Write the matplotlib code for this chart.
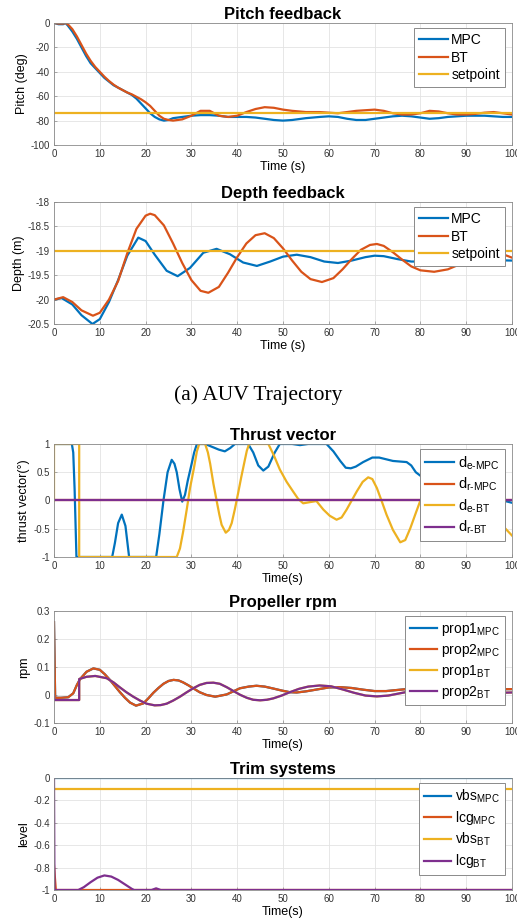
import numpy as np
import matplotlib
matplotlib.use("Agg")
import matplotlib.pyplot as plt
from matplotlib.ticker import StrMethodFormatter

plt.rcParams['font.family'] = ['Liberation Sans', 'DejaVu Sans']
plt.rcParams['mathtext.fontset'] = 'custom'
plt.rcParams['mathtext.rm'] = 'Liberation Sans'
plt.rcParams['mathtext.it'] = 'Liberation Sans'
plt.rcParams['mathtext.default'] = 'regular'
plt.rcParams['axes.unicode_minus'] = False

# Matlab default colours
C_BLUE = '#0072BD'
C_RED = '#D95319'
C_YEL = '#EDB120'
C_PUR = '#7E2F8E'

# ---------------- pitch feedback ----------------
pitch_t = [0, 1, 2, 2.5, 3, 4, 5, 6, 7, 8, 9, 10, 11, 12, 13, 14, 15, 16, 17, 18, 19, 20,
           21, 22, 23, 24, 25, 26, 28, 30, 32, 34, 36, 38, 40, 42, 44, 46, 48, 50, 52, 55,
           58, 60, 62, 64, 66, 68, 70, 72, 74, 76, 78, 80, 82, 84, 86, 88, 90, 92, 94, 96, 98, 100]
pitch_mpc = [0, -1, -1, 0, -2, -7, -13, -20, -27, -33, -37, -41, -45, -48, -51, -53, -55, -57,
             -59, -62, -66, -70, -74, -77, -79, -80, -79.5, -78, -77, -76, -75.5, -75.5, -76,
             -77, -77, -77, -77.5, -78.5, -79.5, -80, -79.5, -78, -77, -76.5, -77, -78.5, -79.5,
             -79.5, -78.5, -77.5, -76.5, -76, -76.5, -77.5, -78.5, -78, -77, -76.5, -76, -76,
             -76, -76.5, -77, -77]
pitch_bt = [0, -0.5, -0.5, 0, -1, -5, -11, -18, -25, -31, -36, -40, -44, -47.5, -50.5, -53, -55,
            -57, -58.5, -60.5, -62.5, -65, -68, -72, -76, -78.5, -79.5, -80, -79, -76, -72, -72,
            -76, -77, -76, -73, -70.5, -69, -69.5, -71, -72, -73, -73, -73.5, -74, -73, -72,
            -71.5, -71, -72, -74, -75, -75, -74, -72, -72.5, -74, -75, -75, -74.5, -73.5, -73,
            -74, -75]
pitch_setpoint = -74

# ---------------- depth feedback ----------------
depth_t_mpc = [0, 1.7, 4, 6, 8.4, 10, 12, 14, 16, 18.4, 20, 22, 24.6, 27, 29.7, 32.6, 35.5, 38.4,
               41.3, 44.3, 47.2, 50, 53, 56, 59, 62, 65, 68, 70, 72, 75, 78, 80, 83, 86, 89, 92,
               95, 100]
depth_mpc = [-20, -19.97, -20.1, -20.32, -20.5, -20.4, -20.05, -19.6, -19.1, -18.73, -18.8,
             -19.08, -19.41, -19.52, -19.35, -19.04, -18.96, -19.07, -19.24, -19.31, -19.22,
             -19.12, -19.08, -19.13, -19.22, -19.25, -19.2, -19.13, -19.1, -19.11, -19.17,
             -19.22, -19.22, -19.19, -19.14, -19.12, -19.14, -19.19, -19.2]
depth_t_bt = [0, 2, 4, 6, 8.5, 10, 12, 14, 16, 18, 20, 21, 22, 24, 26, 28, 30, 32, 33.7, 36, 38,
              40, 42, 44, 46, 48, 50, 52, 54, 56, 58.5, 61, 63, 65, 67, 69, 70.5, 72, 74, 76, 78,
              80, 83, 86, 88, 90, 92, 94, 96, 98, 100]
depth_bt = [-20, -19.95, -20.05, -20.22, -20.33, -20.27, -20.0, -19.62, -19.05, -18.55, -18.28,
            -18.24, -18.27, -18.48, -18.85, -19.25, -19.6, -19.82, -19.86, -19.74, -19.45,
            -19.13, -18.85, -18.68, -18.64, -18.74, -18.95, -19.2, -19.43, -19.58, -19.64,
            -19.56, -19.38, -19.17, -18.98, -18.88, -18.86, -18.9, -19.03, -19.18, -19.32,
            -19.4, -19.43, -19.38, -19.3, -19.2, -19.1, -19.04, -19.03, -19.07, -19.14]
depth_setpoint = -19

# ---------------- thrust vector ----------------
thr_t_mpc = [0, 3.9, 4.2, 4.5, 4.9, 12.7, 13.3, 14.0, 14.8, 15.6, 16.4, 22.3, 23.0, 23.9, 24.8,
             25.7, 26.3, 26.8, 27.4, 28.0, 28.6, 29.2, 30.0, 30.6, 31.2, 33.0, 34.5, 36.0, 37.3,
             38.5, 39.5, 42.4, 43.5, 44.6, 45.7, 46.8, 48.2, 49.3, 52.0, 53.7, 55.5, 59.5, 61.0,
             62.5, 63.7, 64.8, 65.9, 67.5, 69.5, 71.0, 74.0, 77.0, 78.0, 79.0, 80.3, 81.4, 84,
             87, 90, 93, 96, 98, 100]
de_mpc = [1, 1, 0.85, 0.2, -1, -1, -0.75, -0.4, -0.25, -0.45, -1, -1, -0.6, 0, 0.5, 0.72, 0.65,
          0.5, 0.2, -0.02, 0.1, 0.35, 0.63, 0.85, 1, 1, 0.95, 0.9, 0.87, 0.93, 1, 1, 0.85, 0.62,
          0.53, 0.6, 0.85, 1, 1, 0.98, 1, 1, 0.87, 0.7, 0.58, 0.57, 0.6, 0.68, 0.76, 0.76, 0.7,
          0.68, 0.62, 0.5, 0.42, 0.34, 0.22, 0.13, 0.08, 0.05, 0.03, 0.0, -0.04]
thr_t_bt = [0, 0, 5.5, 5.5, 26.8, 27.5, 28.2, 29.0, 29.7, 30.5, 31.2, 31.7, 33.0, 33.6, 34.1,
            34.8, 35.5, 36.1, 36.6, 37.5, 38.2, 38.8, 39.5, 40.2, 40.9, 41.6, 42.1, 42.6, 46.8,
            48.0, 49.3, 50.8, 52.2, 53.3, 54.4, 55.8, 57.3, 58.8, 60.2, 61.7, 62.8, 63.9, 65.0,
            66.1, 67.4, 68.6, 69.5, 70.5, 71.5, 72.6, 74.0, 75.6, 76.7, 77.8, 79.0, 80.0, 81.4,
            83, 85.5, 88, 91, 94, 96, 98, 100]
de_bt = [0, 1, 1, -1, -1, -0.85, -0.55, -0.15, 0.22, 0.55, 0.87, 1, 1, 0.85, 0.65, 0.3, 0,
         -0.25, -0.43, -0.57, -0.52, -0.4, -0.15, 0.13, 0.42, 0.69, 0.88, 1, 1, 0.8, 0.55, 0.33,
         0.16, 0.03, -0.05, -0.03, -0.01, -0.16, -0.27, -0.34, -0.3, -0.16, 0.0, 0.16, 0.33,
         0.41, 0.38, 0.22, 0.0, -0.25, -0.52, -0.74, -0.7, -0.49, -0.22, 0, 0.22, 0.3, 0.32,
         0.2, 0.0, -0.2, -0.33, -0.45, -0.62]
thr_t_flat = [0, 100]
dr_mpc = [0, 0]
dr_bt = [0, 0]

# ---------------- propeller rpm ----------------
prop_t_mpc = [0, 0.25, 1.5, 3.1, 4.2, 5.0, 5.7, 7.1, 8.6, 10.0, 11.1, 12.2, 13.3, 14.4, 15.5,
              16.6, 17.9, 19.5, 20.6, 21.7, 22.8, 23.9, 25.0, 26.1, 27.2, 28.2, 29.3, 30.4, 31.8,
              33.3, 35.2, 37.7, 40.6, 42.5, 44.2, 46.0, 47.9, 49.7, 51.5, 53.0, 55, 57.5, 60,
              62.5, 65, 67.5, 70, 72.5, 75, 77.5, 80, 85, 90, 95, 100]
prop2_mpc = [0.26, -0.01, -0.01, -0.008, 0.006, 0.036, 0.057, 0.083, 0.095, 0.09, 0.074, 0.054,
             0.032, 0.01, -0.01, -0.027, -0.038, -0.03, -0.012, 0.008, 0.025, 0.04, 0.05, 0.054,
             0.052, 0.045, 0.035, 0.024, 0.01, 0.0, -0.006, 0.002, 0.024, 0.03, 0.033, 0.03,
             0.023, 0.016, 0.01, 0.009, 0.013, 0.02, 0.027, 0.028, 0.025, 0.019, 0.014, 0.014,
             0.018, 0.022, 0.024, 0.022, 0.019, 0.02, 0.021]
prop1_mpc = prop2_mpc  # hidden under prop2 in the original
prop_t_bt = [0, 0.1, 5.5, 5.5, 7.1, 9.0, 11.5, 13.0, 14.4, 15.8, 17.3, 18.8, 20.2, 22.0, 23.3,
             24.6, 26.0, 27.5, 29.0, 30.4, 31.8, 33.3, 34.8, 36.2, 37.7, 39.2, 40.6, 42.1, 43.5,
             45.0, 46.5, 47.9, 49.7, 51.5, 53.5, 55.5, 58, 60.5, 63, 65.5, 68, 70.5, 73, 75.5,
             78, 80.5, 83, 86, 89, 92, 95, 97.5, 100]
prop2_bt = [0, -0.018, -0.018, 0.057, 0.065, 0.068, 0.06, 0.045, 0.027, 0.01, -0.006, -0.02,
            -0.031, -0.037, -0.036, -0.031, -0.02, -0.006, 0.01, 0.024, 0.036, 0.043, 0.044, 0.04,
            0.028, 0.014, 0.001, -0.01, -0.017, -0.019, -0.017, -0.012, -0.002, 0.01, 0.022,
            0.03, 0.034, 0.031, 0.02, 0.008, -0.002, -0.005, -0.002, 0.006, 0.014, 0.019, 0.02,
            0.017, 0.012, 0.008, 0.007, 0.008, 0.009]
prop1_bt = prop2_bt

# ---------------- trim systems ----------------
trim_t_flat = [0, 100]
vbs_mpc = [0, 0]
vbs_bt = [-0.1, -0.1]
lcg_t_mpc = [0, 0.4, 100]
lcg_mpc = [-0.78, -1, -1]
lcg_t_bt = [0, 0.1, 5.3, 6.5, 8, 9.5, 11, 12.5, 14, 15.5, 17, 17.5, 21.3, 22.3, 23.3, 100]
lcg_bt = [0, -1, -1, -0.975, -0.93, -0.89, -0.87, -0.88, -0.91, -0.95, -0.99, -1, -1, -0.985,
          -1, -1]

W, H = 517, 923
fig = plt.figure(figsize=(W / 100, H / 100), dpi=100)


def make_ax(top_px, bot_px):
    ax = fig.add_axes([54 / W, 1 - bot_px / H, (512 - 54) / W, (bot_px - top_px) / H])
    ax.set_xlim(0, 100)
    ax.set_xticks(range(0, 101, 10))
    ax.grid(True, color='#e3e3e3', lw=0.6)
    ax.set_axisbelow(True)
    for s in ax.spines.values():
        s.set_color('#8a8a8a')
        s.set_linewidth(0.6)
    ax.tick_params(direction='in', length=2.5, width=0.5, color='#8a8a8a',
                   labelsize=7, labelcolor='#333333', pad=3)
    ax.yaxis.set_major_formatter(StrMethodFormatter('{x:g}'))
    return ax


def legend(ax, fs=9.5, spacing=0.25, hl=2.1):
    lg = ax.legend(loc='upper right', bbox_to_anchor=(0.984, 0.955), borderaxespad=0,
                   fontsize=fs, handlelength=hl, handletextpad=0.25, labelspacing=spacing,
                   fancybox=False, framealpha=1, edgecolor='#8a8a8a', borderpad=0.35)
    lg.get_frame().set_linewidth(0.7)
    return lg


LW = 1.6
TFS = 12
HY = '\u2010'  # hyphen inside subscripts

# Pitch
ax = make_ax(23, 145)
ax.plot(pitch_t, pitch_mpc, color=C_BLUE, lw=LW, label='MPC')
ax.plot(pitch_t, pitch_bt, color=C_RED, lw=LW, label='BT')
ax.axhline(pitch_setpoint, color=C_YEL, lw=LW, label='setpoint')
ax.set_ylim(-100, 0)
ax.set_yticks(range(-100, 1, 20))
ax.set_title('Pitch feedback', fontsize=TFS, fontweight='bold', pad=3)
ax.set_xlabel('Time (s)', fontsize=9, labelpad=1)
ax.set_ylabel('Pitch (deg)', fontsize=9, labelpad=2)
legend(ax, fs=10)

# Depth
ax = make_ax(202, 324)
ax.plot(depth_t_mpc, depth_mpc, color=C_BLUE, lw=LW, label='MPC')
ax.plot(depth_t_bt, depth_bt, color=C_RED, lw=LW, label='BT')
ax.axhline(depth_setpoint, color=C_YEL, lw=LW, label='setpoint')
ax.set_ylim(-20.5, -18)
ax.set_yticks([-20.5, -20, -19.5, -19, -18.5, -18])
ax.set_title('Depth feedback', fontsize=TFS, fontweight='bold', pad=3)
ax.set_xlabel('Time (s)', fontsize=9, labelpad=1)
ax.set_ylabel('Depth (m)', fontsize=9, labelpad=2)
legend(ax, fs=10)

fig.text(0.5, 1 - 395 / H, '(a) AUV Trajectory', family='Liberation Serif', fontsize=15.5,
         ha='center', va='center')

# Thrust vector
ax = make_ax(444, 557)
ax.plot(thr_t_mpc, de_mpc, color=C_BLUE, lw=LW, label='d$_{e' + HY + 'MPC}$')
ax.plot(thr_t_flat, dr_mpc, color=C_RED, lw=LW, label='d$_{r' + HY + 'MPC}$')
ax.plot(thr_t_bt, de_bt, color=C_YEL, lw=LW, label='d$_{e' + HY + 'BT}$')
ax.plot(thr_t_flat, dr_bt, color=C_PUR, lw=LW, label='d$_{r' + HY + 'BT}$')
ax.set_ylim(-1, 1)
ax.set_yticks([-1, -0.5, 0, 0.5, 1])
ax.set_title('Thrust vector', fontsize=TFS, fontweight='bold', pad=3)
ax.set_xlabel('Time(s)', fontsize=9, labelpad=1)
ax.set_ylabel('thrust vector(°)', fontsize=9, labelpad=2)
legend(ax, fs=10.5, spacing=0.28, hl=2.0)

# Propeller rpm
ax = make_ax(611, 723)
ax.plot(prop_t_mpc, prop1_mpc, color=C_BLUE, lw=LW, label=r'prop1$_{MPC}$')
ax.plot(prop_t_mpc, prop2_mpc, color=C_RED, lw=LW, label=r'prop2$_{MPC}$')
ax.plot(prop_t_bt, prop1_bt, color=C_YEL, lw=LW, label=r'prop1$_{BT}$')
ax.plot(prop_t_bt, prop2_bt, color=C_PUR, lw=LW, label=r'prop2$_{BT}$')
ax.set_ylim(-0.1, 0.3)
ax.set_yticks([-0.1, 0, 0.1, 0.2, 0.3])
ax.set_title('Propeller rpm', fontsize=TFS, fontweight='bold', pad=3)
ax.set_xlabel('Time(s)', fontsize=9, labelpad=1)
ax.set_ylabel('rpm', fontsize=9, labelpad=2)
legend(ax, fs=10, spacing=0.28, hl=2.0)

# Trim systems
ax = make_ax(778, 890)
ax.plot(trim_t_flat, vbs_mpc, color=C_BLUE, lw=LW, label=r'vbs$_{MPC}$')
ax.plot(lcg_t_mpc, lcg_mpc, color=C_RED, lw=LW, label=r'lcg$_{MPC}$')
ax.plot(trim_t_flat, vbs_bt, color=C_YEL, lw=LW, label=r'vbs$_{BT}$')
ax.plot(lcg_t_bt, lcg_bt, color=C_PUR, lw=LW, label=r'lcg$_{BT}$')
ax.set_ylim(-1, 0)
ax.set_yticks([-1, -0.8, -0.6, -0.4, -0.2, 0])
ax.set_title('Trim systems', fontsize=TFS, fontweight='bold', pad=3)
ax.set_xlabel('Time(s)', fontsize=9, labelpad=1)
ax.set_ylabel('level', fontsize=9, labelpad=2)
legend(ax, fs=10, spacing=0.28, hl=2.0)

fig.savefig('out.png', dpi=100)
